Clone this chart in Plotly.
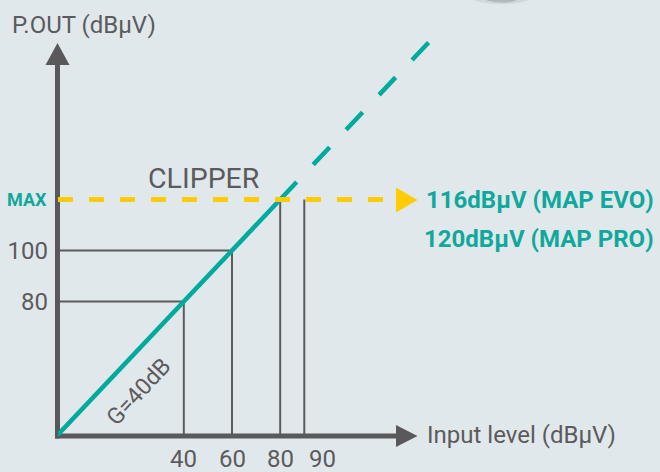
import plotly.graph_objects as go

# ---------------- data ----------------
input_levels = [40, 60, 80, 90]                 # x tick values (dBμV)
input_tick_labels = ["40", "60", "80", "90"]
output_levels = [80, 100]                       # y tick values (dBμV)
output_tick_labels = ["80", "100"]
guide_inputs = [40, 60, 80, 90]                 # vertical guides
guide_outputs = [80, 100, 120, 120]             # each guide stops at this output
horiz_outputs = [80, 100]                       # horizontal guides
horiz_inputs = [40, 60]
max_level = 120                                 # "MAX" clipper level
gain_label = "G=40dB"
gain_solid_in = [-13, 80]
gain_solid_out = [27, 120]
gain_dash_in = [80, 142]
gain_dash_out = [120, 182]
max_line_in = [-12.2, 128]
max_labels = ["116dBμV (MAP EVO)", "120dBμV (MAP PRO)"]

# ---------------- style / layout ----------------
W, H = 660, 472
ML, MR, MT, MB = 58, 0, 0, 36
X_RANGE = [-12.2, 237.6]
Y_RANGE = [27.25, 198.24]
BG = "#e1e8eb"
GRAY = "#5b5b5d"
AXIS = "#59595b"
TEAL = "#00aa9e"
TEAL_TXT = "#10a89c"
YELLOW = "#ffcb05"
FONT = "Roboto"
LAST_TICK_SHIFT = 18    # the schematic draws its last label a little further right

PW = W - ML - MR
PH = H - MT - MB


def px(x):
    return (x - ML) / PW


def py(y):
    return (H - MB - y) / PH


fig = go.Figure()

# guide lines (gray)
for xi, yo in zip(guide_inputs, guide_outputs):
    fig.add_trace(go.Scatter(x=[xi, xi], y=[Y_RANGE[0], yo], mode="lines",
                             line=dict(color=GRAY, width=2), hoverinfo="skip",
                             showlegend=False))
for xi, yo in zip(horiz_inputs, horiz_outputs):
    fig.add_trace(go.Scatter(x=[X_RANGE[0], xi], y=[yo, yo], mode="lines",
                             line=dict(color=GRAY, width=2), hoverinfo="skip",
                             showlegend=False))

# gain line
fig.add_trace(go.Scatter(x=gain_solid_in, y=gain_solid_out, mode="lines",
                         line=dict(color=TEAL, width=4.5), hoverinfo="skip",
                         showlegend=False))
fig.add_trace(go.Scatter(x=gain_dash_in, y=gain_dash_out, mode="lines",
                         line=dict(color=TEAL, width=4.5, dash="24px,24px"),
                         hoverinfo="skip", showlegend=False))

# MAX dashed line
fig.add_trace(go.Scatter(x=max_line_in, y=[max_level, max_level], mode="lines",
                         line=dict(color=YELLOW, width=5, dash="15px,16px"),
                         hoverinfo="skip", showlegend=False))

shapes = []
# axes (drawn below traces)
shapes.append(dict(type="line", xref="paper", yref="paper",
                   x0=px(55), y0=py(436), x1=px(398), y1=py(436),
                   line=dict(color=AXIS, width=5), layer="below"))
shapes.append(dict(type="line", xref="paper", yref="paper",
                   x0=px(57.5), y0=py(438.5), x1=px(57.5), y1=py(62),
                   line=dict(color=AXIS, width=5), layer="below"))


def tri(pts, color):
    path = "M " + " L ".join(f"{px(a):.5f},{py(b):.5f}" for a, b in pts) + " Z"
    return dict(type="path", xref="paper", yref="paper", path=path,
                fillcolor=color, line=dict(width=0), layer="above")


shapes.append(tri([(45.5, 65), (69.5, 65), (57.5, 43)], AXIS))
shapes.append(tri([(396, 425), (396, 447), (417.5, 436)], AXIS))
shapes.append(tri([(396, 187.5), (396, 212.5), (417.5, 200)], YELLOW))

# soft shadow at top edge
shapes.append(dict(type="circle", xref="paper", yref="paper",
                   x0=px(470), x1=px(533), y0=py(4), y1=py(-12),
                   fillcolor="rgba(150,155,160,0.22)", line=dict(width=0), layer="below"))
shapes.append(dict(type="circle", xref="paper", yref="paper",
                   x0=px(482), x1=px(521), y0=py(2.5), y1=py(-10),
                   fillcolor="rgba(110,115,120,0.3)", line=dict(width=0), layer="below"))

annotations = [
    dict(text="P.OUT (dBμV)", xref="paper", yref="paper", x=px(10), y=py(25),
         xanchor="left", yanchor="middle", showarrow=False,
         font=dict(family=FONT, size=24, color=GRAY)),
    dict(text="Input level (dBμV)", xref="paper", yref="paper", x=px(425), y=py(435),
         xanchor="left", yanchor="middle", showarrow=False,
         font=dict(family=FONT, size=24, color=GRAY)),
    dict(text="CLIPPER", xref="paper", yref="paper", x=px(204), y=py(178),
         xanchor="center", yanchor="middle", showarrow=False,
         font=dict(family=FONT, size=28.5, color=GRAY)),
    dict(text="<b>MAX</b>", xref="paper", yref="y", x=px(49), y=max_level,
         xanchor="right", yanchor="middle", showarrow=False,
         font=dict(family=FONT, size=18, color=TEAL_TXT)),
    dict(text=f"<b>{max_labels[0]}</b>", xref="paper", yref="y", x=px(424), y=max_level,
         xanchor="left", yanchor="middle", showarrow=False,
         font=dict(family=FONT, size=24, color=TEAL_TXT)),
    dict(text=f"<b>{max_labels[1]}</b>", xref="paper", yref="y", x=px(422), y=max_level,
         yshift=-39, xanchor="left", yanchor="middle", showarrow=False,
         font=dict(family=FONT, size=24, color=TEAL_TXT)),
    dict(text=gain_label, xref="x", yref="y", x=21, y=44.5, textangle=-47,
         xanchor="center", yanchor="middle", showarrow=False,
         font=dict(family=FONT, size=23, color=GRAY)),
]

# x tick labels as annotations under their input levels
for i, (xv, lab) in enumerate(zip(input_levels, input_tick_labels)):
    annotations.append(dict(
        text=lab, xref="x", yref="paper", x=xv, y=py(459),
        xshift=LAST_TICK_SHIFT if i == len(input_levels) - 1 else 0,
        xanchor="center", yanchor="middle", showarrow=False,
        font=dict(family=FONT, size=24, color=GRAY)))

fig.update_layout(
    width=W, height=H, autosize=False,
    margin=dict(l=ML, r=MR, t=MT, b=MB, pad=0),
    paper_bgcolor=BG, plot_bgcolor=BG,
    shapes=shapes, annotations=annotations,
    showlegend=False,
    xaxis=dict(range=X_RANGE, showgrid=False, zeroline=False, showline=False,
               showticklabels=False, ticks="", automargin=False, fixedrange=True),
    yaxis=dict(range=Y_RANGE, showgrid=False, zeroline=False, showline=False,
               tickmode="array", tickvals=output_levels, ticktext=output_tick_labels,
               ticks="", tickangle=0, ticklabelstandoff=9, automargin=False,
               fixedrange=True, tickfont=dict(family=FONT, size=24, color=GRAY)),
)

fig.write_html(
    "out.html",
    config={"displayModeBar": False},
    post_script="document.body.style.margin='0';document.body.style.padding='0';"
                "document.body.style.overflow='hidden';"
                "document.documentElement.style.background='" + BG + "';",
)
